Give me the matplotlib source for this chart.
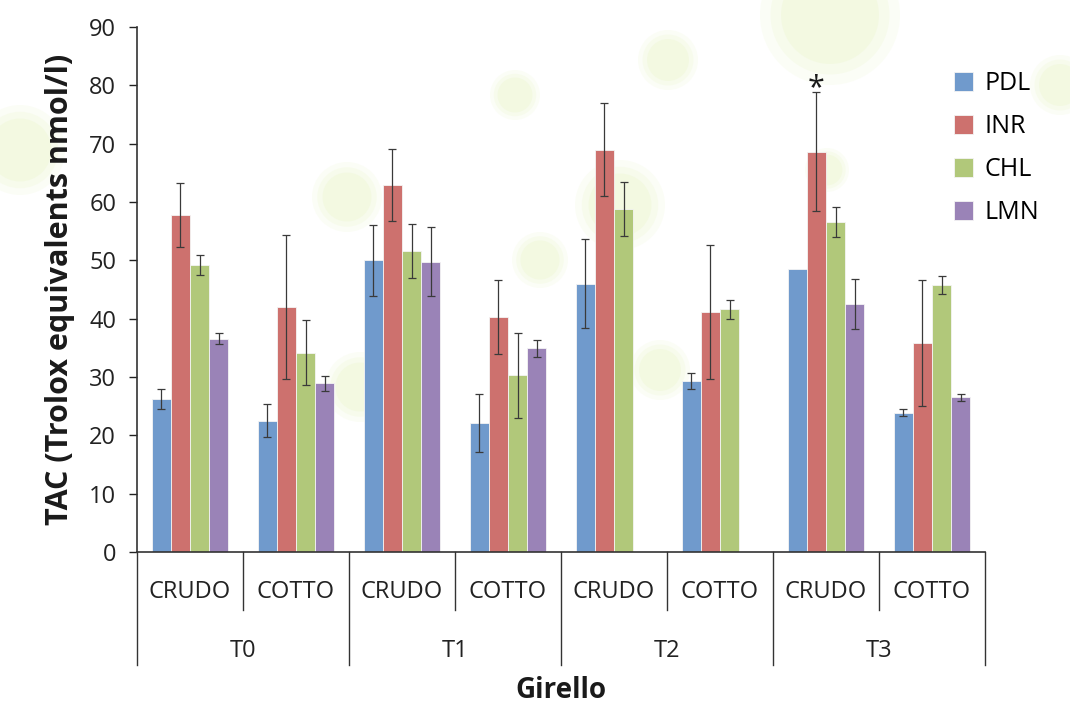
import matplotlib
matplotlib.use("Agg")
import matplotlib.pyplot as plt
import numpy as np
from matplotlib.patches import Circle

plt.rcParams['font.family'] = ['Open Sans', 'DejaVu Sans']

# categories: (time, treatment)
times = ["T0", "T1", "T2", "T3"]
treatments = ["CRUDO", "COTTO"]
series = ["PDL", "INR", "CHL", "LMN"]

# means per category (T0 CRUDO, T0 COTTO, T1 CRUDO, ...)
pdl = [26.2, 22.5, 50.0, 22.1, 46.0, 29.3, 48.6, 23.9]
inr = [57.8, 42.0, 62.9, 40.3, 69.0, 41.2, 68.6, 35.8]
chl = [49.2, 34.2, 51.6, 30.3, 58.8, 41.6, 56.6, 45.8]
lmn = [36.6, 28.9, 49.8, 34.9, np.nan, np.nan, 42.5, 26.5]

# standard deviations
pdl_err = [1.7, 2.8, 6.1, 5.0, 7.6, 1.4, 0.0, 0.6]
inr_err = [5.5, 12.3, 6.2, 6.4, 7.9, 11.5, 10.2, 10.8]
chl_err = [1.7, 5.6, 4.7, 7.3, 4.6, 1.6, 2.6, 1.5]
lmn_err = [0.9, 1.3, 5.9, 1.4, 0.0, 0.0, 4.3, 0.6]

colors = ["#709ACC", "#CD716E", "#B1C87A", "#9A83B7"]

values = [pdl, inr, chl, lmn]
errors = [pdl_err, inr_err, chl_err, lmn_err]

fig = plt.figure(figsize=(10.7, 7.04), dpi=100)

# faint decorative background blobs (pixel coordinates)
bg = fig.add_axes([0, 0, 1, 1], zorder=-1)
bg.set_xlim(0, 1070)
bg.set_ylim(704, 0)
bg.axis("off")
blobs = [(830, 15, 70), (668, 60, 30), (515, 95, 25), (347, 197, 35),
         (620, 205, 45), (360, 387, 35), (540, 260, 28), (827, 170, 22),
         (20, 150, 45), (1060, 85, 30), (660, 370, 30)]
for bx, by, br in blobs:
    for f, a in [(1.0, 0.10), (0.85, 0.12), (0.7, 0.15)]:
        bg.add_patch(Circle((bx, by), br * f, facecolor="#DDF2A8",
                            edgecolor="none", alpha=a))

ax = fig.add_axes([0.128, 0.2159, 0.7926, 0.7457])
ax.set_facecolor("none")
n = len(pdl)
x = np.arange(n)
width = 0.18
for k, (name, vals, errs, col) in enumerate(zip(series, values, errors, colors)):
    pos = x + (k - 1.5) * width
    ax.bar(pos, vals, width, color=col, edgecolor="#F4F4F4", linewidth=0.6,
           label=name, zorder=2)
    v = np.array(vals, dtype=float)
    e = np.array(errs, dtype=float)
    m = ~np.isnan(v) & (e > 0)
    ax.errorbar(pos[m], v[m], yerr=e[m], fmt="none", ecolor="#3A3A3A",
                elinewidth=0.9, capsize=3, capthick=0.9, zorder=3)

# significance marker (T3 CRUDO, INR)
ax.text(6 - 0.5 * width, inr[6] + inr_err[6] - 1.8, "*", ha="center",
        va="bottom", fontsize=22, color="#1a1a1a")

ax.set_xlim(-0.5, n - 0.5)
ax.set_ylim(0, 90)
ax.set_yticks(np.arange(0, 91, 10))
ax.tick_params(axis="y", direction="out", length=6, width=1, labelsize=17,
               colors="#222222", pad=9)
ax.tick_params(axis="x", length=0, labelbottom=False)
for s in ["top", "right"]:
    ax.spines[s].set_visible(False)
for s in ["left", "bottom"]:
    ax.spines[s].set_color("#333333")
    ax.spines[s].set_linewidth(1.2)

ax.set_ylabel("TAC (Trolox equivalents nmol/l)", fontsize=22, fontweight="bold",
              labelpad=10, color="#1a1a1a")

# multi-level category axis
trans = ax.get_xaxis_transform()
for i in range(n):
    ax.text(i, -0.076, treatments[i % 2], transform=trans, ha="center",
            va="center", fontsize=17, color="#222222")
for b in range(n + 1):
    depth = -0.215 if b % 2 == 0 else -0.110
    ax.plot([b - 0.5, b - 0.5], [0, depth], transform=trans, color="#333333",
            linewidth=1.0, clip_on=False)
for j, t in enumerate(times):
    ax.text(2 * j + 0.5, -0.189, t, transform=trans, ha="center", va="center",
            fontsize=17, color="#222222")
ax.text((n - 1) / 2, -0.263, "Girello", transform=trans, ha="center",
        va="center", fontsize=20, fontweight="bold", color="#1a1a1a")

ax.legend(loc="upper left", bbox_to_anchor=(0.952, 0.935), frameon=False,
          fontsize=18, handlelength=0.75, handleheight=0.75, handletextpad=0.45,
          labelspacing=0.72, borderaxespad=0)

fig.savefig("out.png", dpi=100, facecolor="white")
